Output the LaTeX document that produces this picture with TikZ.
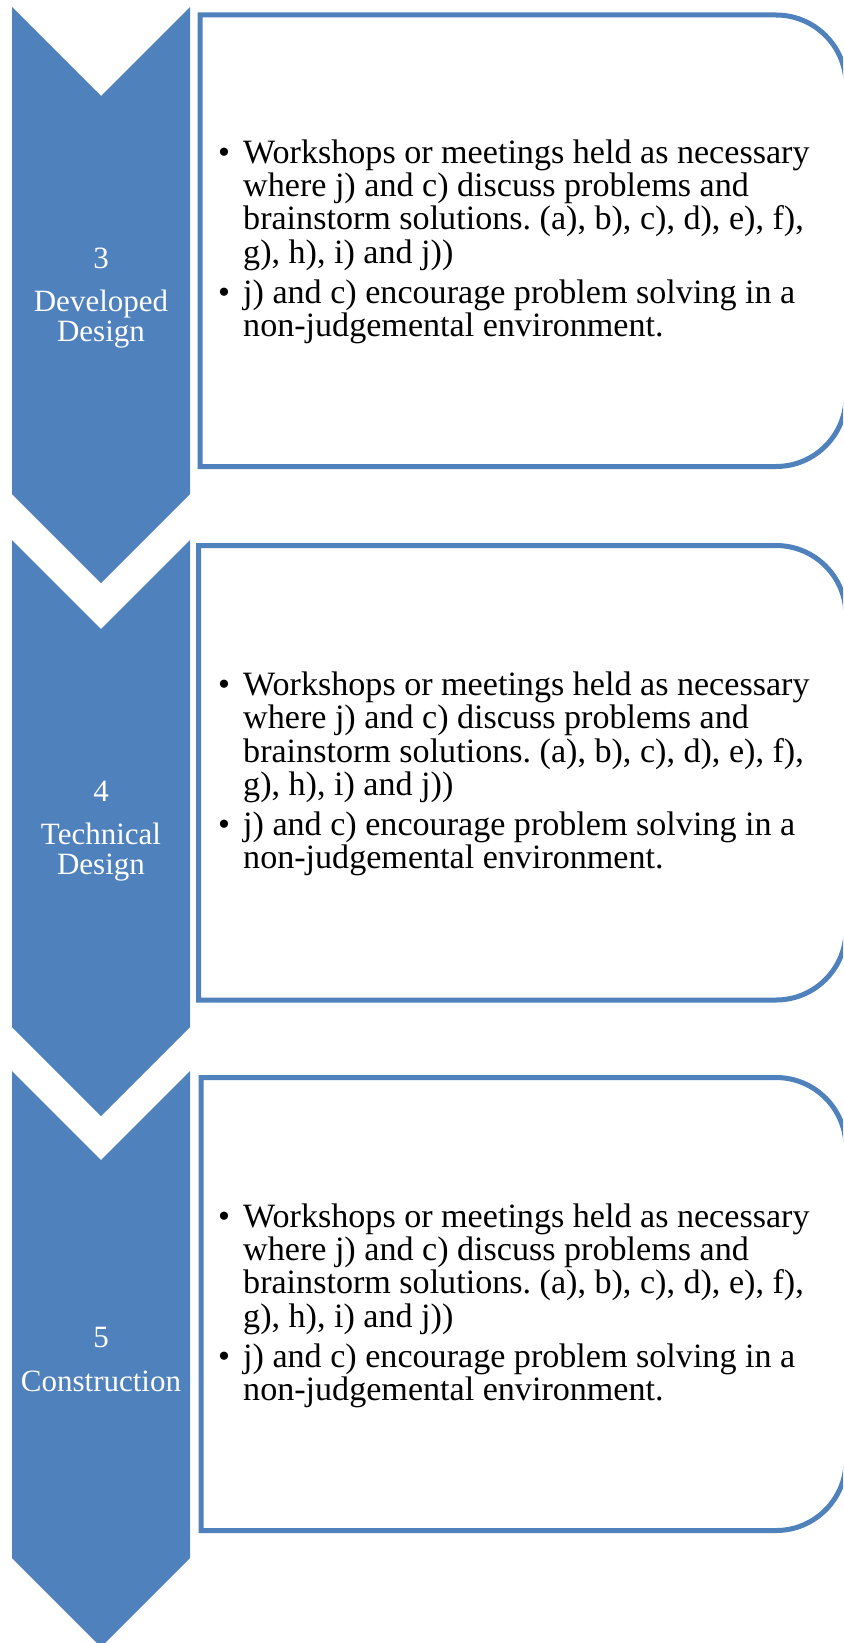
\documentclass[tikz,border=0pt]{standalone}
\usepackage{fontspec}
\setmainfont{Liberation Serif}
\definecolor{accent}{HTML}{4F81BD}
\newcommand{\bpara}[1]{\noindent\hangindent=25pt\hangafter=1\makebox[25pt][l]{\textbullet}#1\par}
\newcommand{\boxcontent}{\parbox[t]{640pt}{\frenchspacing\fontsize{34.1pt}{33.3pt}\selectfont
\bpara{Workshops or meetings held as necessary\newline where j) and c) discuss problems and\newline brainstorm solutions. (a), b), c), d), e), f),\newline g), h), i) and j))}
\vspace{6.7pt}
\bpara{j) and c) encourage problem solving in a\newline non-judgemental environment.}}}
\begin{document}
\begin{tikzpicture}[x=1pt,y=-1pt,
  chev/.style={fill=accent,draw=none},
  stepbox/.style={draw=accent,line width=5pt,fill=white},
  boxtext/.style={anchor=base west,inner sep=0pt,text=black},
  chevtext/.style={anchor=base,inner sep=0pt,text=white}]
\useasboundingbox (0,0) rectangle (843,1643);
\clip (0,0) rectangle (843,1643);
% chevrons
\foreach \t in {7,540,1071}{
  \fill[chev] (12,\t) -- (101,\t+89) -- (190,\t) -- (190,\t+487) -- (101,\t+576) -- (12,\t+487) -- cycle;
}
% boxes
\draw[stepbox] (200,15) -- (776,15) arc[start angle=-90,end angle=0,radius=70] -- (846,396.5) arc[start angle=0,end angle=90,radius=70] -- (200,466.5) -- cycle;
\draw[stepbox] (198.5,545.5) -- (776,545.5) arc[start angle=-90,end angle=0,radius=70] -- (846,930) arc[start angle=0,end angle=90,radius=70] -- (198.5,1000) -- cycle;
\draw[stepbox] (201,1077.5) -- (776,1077.5) arc[start angle=-90,end angle=0,radius=70] -- (846,1460.5) arc[start angle=0,end angle=90,radius=70] -- (201,1530.5) -- cycle;
% box texts
\node[boxtext] (t1) at (218,163.3) {\boxcontent};
\node[boxtext] (t2) at (218,695.5) {\boxcontent};
\node[boxtext] (t3) at (218,1227.3) {\boxcontent};
% chevron labels
\node[chevtext] (c1) at (101,268.3) {\parbox[t]{176pt}{\centering\fontsize{31pt}{30pt}\selectfont 3\par\vspace{13.4pt}Developed\\Design}};
\node[chevtext] (c2) at (101,801.3) {\parbox[t]{176pt}{\centering\fontsize{31pt}{30pt}\selectfont 4\par\vspace{13.4pt}Technical\\Design}};
\node[chevtext] (c3) at (101,1347.7) {\parbox[t]{176pt}{\centering\fontsize{31pt}{30pt}\selectfont 5\par\vspace{13.4pt}Construction}};
\end{tikzpicture}
\end{document}
